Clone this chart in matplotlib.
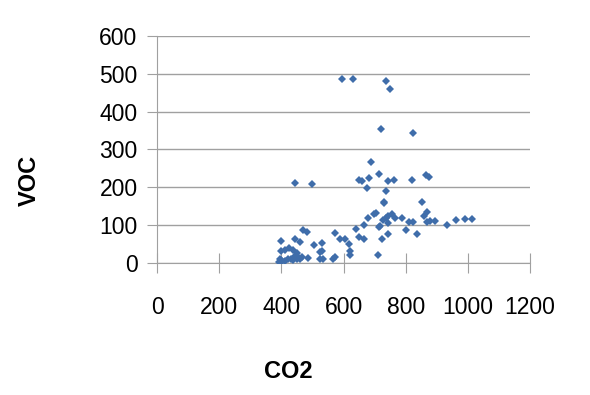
import matplotlib
matplotlib.use("Agg")
import matplotlib.pyplot as plt

plt.rcParams['font.family'] = ['Liberation Sans', 'DejaVu Sans']

# CO2 vs VOC readings
co2 = [596, 631, 736, 751, 721, 822, 690, 715, 445, 500,
       649, 660, 682, 676, 742, 761, 736, 821, 864, 876,
       731, 731, 851, 870, 860, 706, 699, 680, 665, 640,
       755, 744, 736, 728, 765, 787, 811, 824, 868, 878,
       894, 932, 962, 991, 1015, 715, 719, 744, 801, 835,
       742, 724, 649, 665, 711, 572, 588, 604, 617, 620,
       622, 531, 506, 471, 483, 445, 460, 400, 400, 411,
       424, 438, 449, 524, 531, 524, 534, 567, 574, 486,
       467, 454, 443, 432, 422, 395, 400, 400, 411, 438,
       449, 459, 392]
voc = [486, 486, 482, 459, 353, 342, 266, 235, 212, 209,
       219, 216, 223, 199, 216, 219, 190, 219, 232, 227,
       161, 157, 160, 135, 124, 132, 129, 117, 99, 90,
       129, 124, 117, 113, 119, 117, 109, 109, 109, 111,
       111, 101, 113, 115, 116, 95, 97, 104, 86, 75,
       75, 64, 69, 64, 20, 78, 63, 63, 49, 31,
       20, 51, 48, 86, 81, 64, 55, 57, 31, 34,
       38, 34, 25, 27, 31, 11, 11, 11, 14, 13,
       16, 16, 18, 11, 9, 11, 7, 3, 5, 7,
       9, 11, 3]

x_ticks = [0, 200, 400, 600, 800, 1000, 1200]
y_ticks = [0, 100, 200, 300, 400, 500, 600]

fig = plt.figure(figsize=(5.9, 3.95), dpi=100)
ax = fig.add_axes([157 / 590, 1 - 262.7 / 395, 373 / 590, 226.7 / 395])

ax.plot(co2, voc, linestyle='none', marker='D', markersize=3.8,
        color='#3F6DAA', markeredgewidth=0)

ax.set_xlim(0, 1200)
ax.set_ylim(0, 600)
ax.set_xticks(x_ticks)
ax.set_yticks(y_ticks)

grid_col = '#A0A0A0'
ax.yaxis.grid(True, color=grid_col, linewidth=1)
ax.set_axisbelow(True)
for side in ['top', 'right']:
    ax.spines[side].set_visible(False)
ax.spines['left'].set_color(grid_col)
ax.spines['bottom'].set_color(grid_col)
ax.spines['bottom'].set_zorder(0)

ax.tick_params(axis='x', direction='inout', length=14, color=grid_col,
               pad=17, labelsize=16.5, labelcolor='black')
ax.tick_params(axis='y', direction='out', length=7, color=grid_col,
               pad=7, labelsize=16.5, labelcolor='black')

fig.text(288.5 / 590, 1 - 371.5 / 395, 'CO2', fontsize=17, fontweight='bold',
         ha='center', va='center')
fig.text(29 / 590, 1 - 180 / 395, 'VOC', fontsize=17, fontweight='bold',
         rotation=90, ha='center', va='center')

fig.savefig('out.png', dpi=100)
